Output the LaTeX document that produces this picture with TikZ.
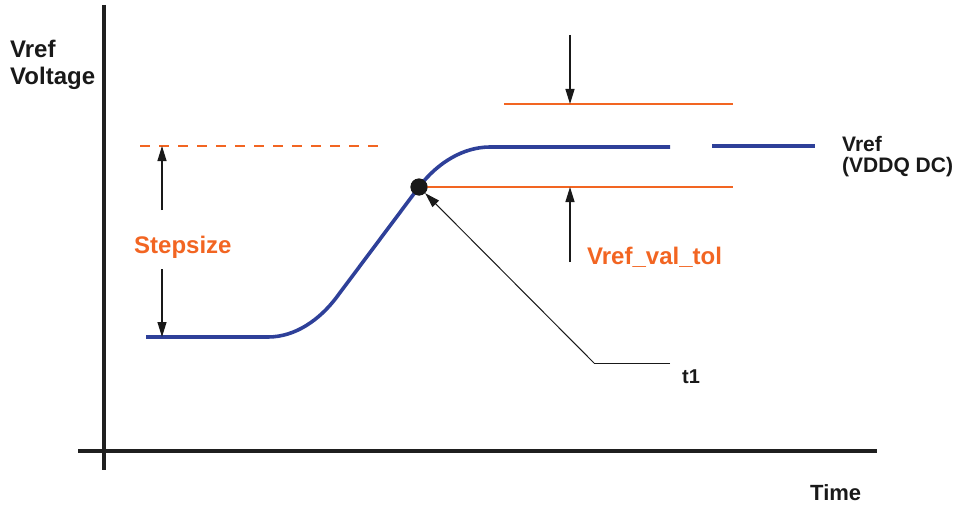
\documentclass[tikz,border=0pt]{standalone}
\usepackage{fontspec}
\setmainfont{Liberation Sans}
\usepackage{xcolor}
\usepackage{tikz}
\usetikzlibrary{positioning,arrows.meta,calc}
\definecolor{vrefblue}{RGB}{46,64,153}
\definecolor{tolorange}{RGB}{242,101,34}

\begin{document}
\begin{tikzpicture}[
    x=1pt,y=-1pt,
    axis/.style={line width=4.5pt,draw=black!88},
    trace/.style={line width=3.6pt,draw=vrefblue},
    limit/.style={line width=2.2pt,draw=tolorange},
    dim/.style={-{Triangle[length=15pt,width=9pt]},line width=1.2pt,draw=black!90},
    lbl/.style={inner sep=0pt,font=\fontsize{22}{27}\selectfont\bfseries,text=black!90},
    olbl/.style={lbl,text=tolorange,font=\fontsize{24}{27}\selectfont\bfseries}
]
\useasboundingbox (0,0) rectangle (955,508);

\draw[axis] (104,5) -- (104,470);
\draw[axis] (78,451) -- (877,451);

\node[lbl,anchor=base west,align=left,font=\fontsize{24}{27}\selectfont\bfseries] (ylabel) at (10,85) {Vref\\Voltage};
\node[lbl,anchor=base west] (xlabel) at (810,500) {Time};

\coordinate (lowStart) at (146,337);
\coordinate (lowEnd)   at (268,337);
\coordinate (rampLow)  at (336,298);
\node[circle,fill=black!90,minimum size=17pt,inner sep=0pt] (t1dot) at (419,187) {};
\coordinate (highStart) at (490,147);
\coordinate (highEnd)   at (670,147);

\draw[limit,dash pattern=on 10pt off 9pt] (140,146) -- (378,146);
\draw[limit] (504,104) -- (733,104);
\draw[limit] (t1dot.center) -- (733,187);

\draw[trace] (lowStart) -- (lowEnd)
    .. controls (296,337) and (320,319) .. (rampLow)
    -- (t1dot.center)
    .. controls (438,162) and (464,147) .. (highStart)
    -- (highEnd);
\draw[trace] (712,146) -- (815,146);
\node[circle,fill=black!90,minimum size=17pt,inner sep=0pt] at (t1dot) {};

\node[lbl,anchor=north west,align=left,font=\fontsize{21}{21}\selectfont\bfseries] (vrefLbl) at (842,136) {Vref\\(VDDQ DC)};

\node[olbl,anchor=base west] (stepLbl) at (134,253) {Stepsize};
\coordinate (stepTop) at (162,146);
\coordinate (stepBot) at (162,337);
\draw[dim] (162,210) -- (stepTop);
\draw[dim] (162,269) -- (stepBot);

\node[olbl,anchor=base west] (tolLbl) at (587,264) {Vref\_val\_tol};
\coordinate (tolHi) at (570,104);
\coordinate (tolLo) at (570,187);
\draw[dim] (570,35) -- (tolHi);
\draw[dim] (570,262) -- (tolLo);

\coordinate (t1knee) at (594,363);
\coordinate (t1end)  at (670,363);
\node[lbl,anchor=base west,font=\fontsize{20}{24}\selectfont\bfseries] (t1Lbl) at (682,383) {t1};
\draw[line width=1pt,draw=black!90] (t1end) -- (t1knee);
\draw[line width=1pt,draw=black!90,-{Triangle[length=15pt,width=9pt]}] (t1knee) -- (t1dot);
\end{tikzpicture}
\end{document}
